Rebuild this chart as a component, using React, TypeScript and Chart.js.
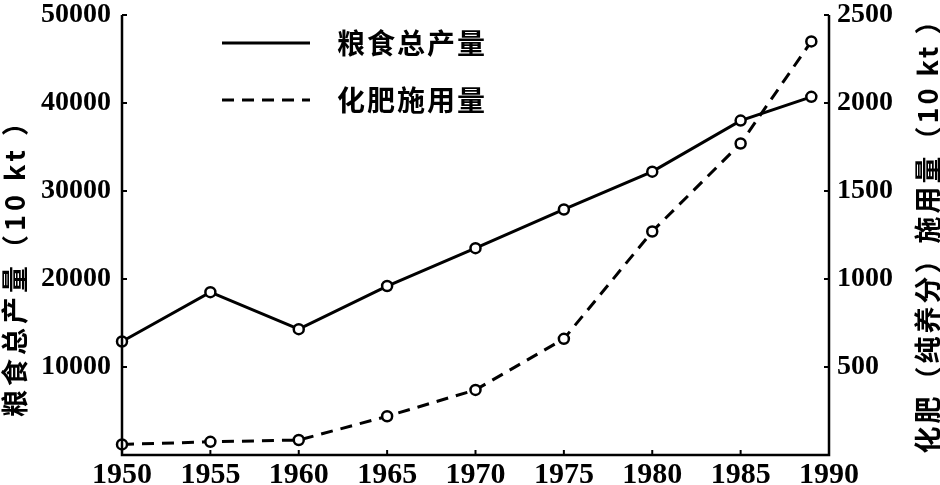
import React, { useEffect, useRef } from "react";
import { Chart, registerables } from "chart.js";

Chart.register(...registerables);

const years = [1950, 1955, 1960, 1965, 1970, 1975, 1980, 1985, 1989];
const grainOutput = [12900, 18500, 14300, 19200, 23500, 27900, 32200, 38000, 40700];
const fertilizerUse = [60, 75, 85, 220, 370, 660, 1270, 1770, 2350];
const grainLabel = "粮食总产量";
const fertLabel = "化肥施用量";
const leftTitle = "粮食总产量（10 kt ）";
const rightTitle = "化肥（纯养分）施用量（10 kt ）";

const NUM_FONT = "'Liberation Serif', 'DejaVu Serif', serif";
const CJK_FONT = "'Noto Sans CJK SC', 'Noto Sans', sans-serif";

const inwardTicks = {
  id: "inwardTicks",
  afterDraw(chart: any) {
    const ctx = chart.ctx;
    const { left, right, top, bottom } = chart.chartArea;
    ctx.save();
    ctx.strokeStyle = "#000";
    ctx.lineWidth = 2.5;
    ctx.beginPath();
    ctx.moveTo(left, top);
    ctx.lineTo(left, bottom);
    ctx.lineTo(right, bottom);
    ctx.lineTo(right, top);
    ctx.stroke();
    ctx.lineWidth = 2;
    const len = 5;
    const y = chart.scales.y;
    y.ticks.forEach((t: any) => {
      if (t.value === 0) return;
      const p = y.getPixelForValue(t.value);
      ctx.beginPath();
      ctx.moveTo(left, p);
      ctx.lineTo(left + len, p);
      ctx.stroke();
    });
    const y1 = chart.scales.y1;
    y1.ticks.forEach((t: any) => {
      if (t.value === 0) return;
      const p = y1.getPixelForValue(t.value);
      ctx.beginPath();
      ctx.moveTo(right, p);
      ctx.lineTo(right - len, p);
      ctx.stroke();
    });
    const x = chart.scales.x;
    x.ticks.forEach((t: any) => {
      const p = x.getPixelForValue(t.value);
      ctx.beginPath();
      ctx.moveTo(p, bottom);
      ctx.lineTo(p, bottom - len);
      ctx.stroke();
    });
    ctx.restore();
  },
};

const titlesAndLegend = {
  id: "titlesAndLegend",
  afterDraw(chart: any) {
    const ctx = chart.ctx;
    ctx.save();
    ctx.fillStyle = "#000";
    ctx.textBaseline = "middle";
    ctx.textAlign = "center";
    const drawTitle = (text: string, cx: number, cy: number, size: number, spacing: number) => {
      ctx.save();
      ctx.translate(cx, cy);
      ctx.rotate(-Math.PI / 2);
      ctx.font = `bold ${size}px ${CJK_FONT}`;
      (ctx as any).letterSpacing = `${spacing}px`;
      ctx.fillText(text, 0, 0);
      ctx.restore();
    };
    drawTitle(leftTitle, 15, 261, 27, 4);
    drawTitle(rightTitle, 928, 229, 27, 3);
    chart.data.datasets.forEach((ds: any, i: number) => {
      const yy = 43 + i * 57;
      const x0 = 222;
      ctx.strokeStyle = "#000";
      ctx.lineWidth = 3;
      ctx.setLineDash(ds.borderDash || []);
      ctx.beginPath();
      ctx.moveTo(x0, yy);
      ctx.lineTo(x0 + 88, yy);
      ctx.stroke();
      ctx.setLineDash([]);
      ctx.font = `bold 28px ${CJK_FONT}`;
      (ctx as any).letterSpacing = "2px";
      ctx.textAlign = "left";
      ctx.fillText(ds.label, 337, yy);
    });
    ctx.restore();
  },
};

const fixVertical = (width: number) => (s: any) => {
  s.width = width;
  s.paddingTop = 15;
  s.paddingBottom = 0;
};

export default function App() {
  const ref = useRef<HTMLCanvasElement | null>(null);
  useEffect(() => {
    if (!ref.current) return;
    const chart = new Chart(ref.current, {
      type: "line",
      data: {
        datasets: [
          {
            label: grainLabel,
            data: years.map((yr, i) => ({ x: yr, y: grainOutput[i] })),
            yAxisID: "y",
            borderColor: "#000",
            borderWidth: 3,
            pointRadius: 5,
            pointBorderWidth: 2.5,
            pointBackgroundColor: "#fff",
            pointBorderColor: "#000",
            clip: false as any,
          },
          {
            label: fertLabel,
            data: years.map((yr, i) => ({ x: yr, y: fertilizerUse[i] })),
            yAxisID: "y1",
            borderColor: "#000",
            borderWidth: 3,
            borderDash: [12, 8],
            pointRadius: 5,
            pointBorderWidth: 2.5,
            pointBackgroundColor: "#fff",
            pointBorderColor: "#000",
            clip: false as any,
          },
        ],
      },
      options: {
        responsive: false,
        animation: false,
        layout: { padding: 0 },
        plugins: { legend: { display: false }, tooltip: { enabled: false } },
        scales: {
          x: {
            type: "linear",
            min: 1950,
            max: 1990,
            border: { display: false },
            grid: { display: false, drawTicks: false },
            ticks: {
              stepSize: 5,
              autoSkip: false,
              maxRotation: 0,
              padding: 2,
              color: "#000",
              font: { family: NUM_FONT, size: 30, weight: "bold" },
              callback: (v: any) => String(v),
            },
            afterFit: (s: any) => {
              s.height = 30;
              s.paddingLeft = 0;
              s.paddingRight = 0;
            },
          },
          y: {
            position: "left",
            min: 0,
            max: 50000,
            border: { display: false },
            grid: { display: false, drawTicks: false },
            ticks: {
              stepSize: 10000,
              padding: 11,
              color: "#000",
              font: { family: NUM_FONT, size: 28, weight: "bold" },
              callback: (v: any) => (v === 0 ? "" : String(v)),
            },
            afterFit: fixVertical(122),
          },
          y1: {
            position: "right",
            min: 0,
            max: 2500,
            border: { display: false },
            grid: { display: false, drawTicks: false },
            ticks: {
              stepSize: 500,
              padding: 8,
              color: "#000",
              font: { family: NUM_FONT, size: 28, weight: "bold" },
              callback: (v: any) => (v === 0 ? "" : String(v)),
            },
            afterFit: fixVertical(111),
          },
        },
      },
      plugins: [inwardTicks, titlesAndLegend],
    });
    return () => chart.destroy();
  }, []);
  return (
    <div style={{ position: "fixed", left: 0, top: 0, width: 940, height: 485, background: "#fff" }}>
      <canvas ref={ref} width={940} height={485} style={{ width: 940, height: 485 }} />
    </div>
  );
}
